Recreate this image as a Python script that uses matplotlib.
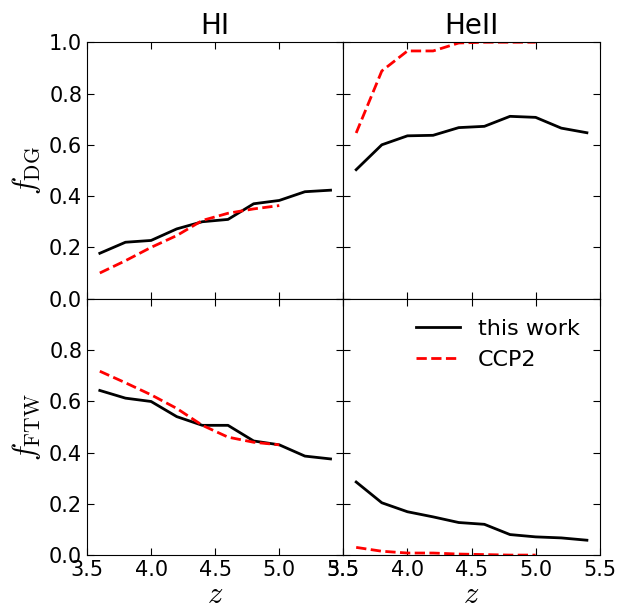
import matplotlib
matplotlib.use("Agg")
import matplotlib.pyplot as plt

plt.rcParams["mathtext.fontset"] = "cm"

z_this = [3.6, 3.8, 4.0, 4.2, 4.4, 4.6, 4.8, 5.0, 5.2, 5.4]
z_ccp2 = [3.6, 3.8, 4.0, 4.2, 4.4, 4.6, 4.8, 5.0]

hi_dg_this = [0.177, 0.22, 0.227, 0.272, 0.30, 0.309, 0.37, 0.383, 0.417, 0.423]
hi_dg_ccp2 = [0.10, 0.148, 0.20, 0.246, 0.305, 0.333, 0.35, 0.363]
heii_dg_this = [0.503, 0.60, 0.635, 0.637, 0.667, 0.672, 0.711, 0.707, 0.665, 0.647]
heii_dg_ccp2 = [0.646, 0.888, 0.966, 0.966, 0.997, 1.0, 1.0, 1.0]

hi_ftw_this = [0.642, 0.612, 0.599, 0.54, 0.506, 0.506, 0.445, 0.43, 0.386, 0.375]
hi_ftw_ccp2 = [0.717, 0.672, 0.625, 0.572, 0.506, 0.46, 0.44, 0.43]
heii_ftw_this = [0.285, 0.204, 0.169, 0.149, 0.127, 0.12, 0.08, 0.071, 0.067, 0.058]
heii_ftw_ccp2 = [0.03, 0.015, 0.008, 0.008, 0.004, 0.002, 0.0, 0.0]

titles = ["HI", "HeII"]
xticks = [3.5, 4.0, 4.5, 5.0, 5.5]

fig, axes = plt.subplots(2, 2, figsize=(6.17, 6.12), dpi=100, sharex=True)
fig.subplots_adjust(left=0.141, right=0.972, top=0.931, bottom=0.093, wspace=0, hspace=0)

data = [[(hi_dg_this, hi_dg_ccp2), (heii_dg_this, heii_dg_ccp2)],
        [(hi_ftw_this, hi_ftw_ccp2), (heii_ftw_this, heii_ftw_ccp2)]]

for i in range(2):
    for j in range(2):
        ax = axes[i, j]
        t, c = data[i][j]
        ax.plot(z_this, t, color="black", lw=2, label="this work")
        ax.plot(z_ccp2, c, color="red", lw=2, ls="--", label="CCP2")
        ax.set_xlim(3.5, 5.5)
        ax.set_ylim(0, 1.0)
        ax.set_xticks(xticks)
        ax.set_yticks([0.0, 0.2, 0.4, 0.6, 0.8, 1.0])
        ax.tick_params(direction="in", top=True, right=True, labelsize=15, length=5)
        if j == 1:
            ax.tick_params(labelleft=False)
        if i == 0:
            ax.set_title(titles[j], fontsize=20)
        else:
            ax.set_xlabel(r"$z$", fontsize=22, labelpad=0)
            ax.set_xticklabels(["3.5", "4.0", "4.5", "5.0", "5.5"])
        if i == 1 and j == 0:
            ax.set_yticklabels(["0.0", "0.2", "0.4", "0.6", "0.8", ""])

axes[0, 0].set_ylabel(r"$f_{\rm DG}$", fontsize=22)
axes[1, 0].set_ylabel(r"$f_{\rm FTW}$", fontsize=22)
axes[1, 1].legend(loc="upper right", frameon=False, fontsize=16)

fig.savefig("out.png", dpi=100)
